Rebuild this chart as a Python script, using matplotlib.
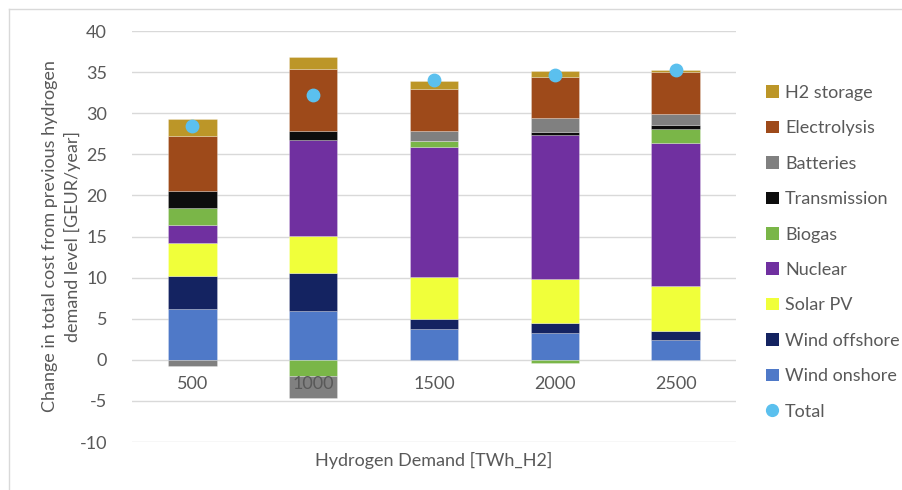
import matplotlib
matplotlib.use("Agg")
import matplotlib.pyplot as plt
from matplotlib.patches import Patch
from matplotlib.lines import Line2D
import numpy as np

plt.rcParams['font.family'] = ['Lato', 'DejaVu Sans']
plt.rcParams['axes.unicode_minus'] = False

categories = ["500", "1000", "1500", "2000", "2500"]
series_names = ["Wind onshore", "Wind offshore", "Solar PV", "Nuclear", "Biogas",
                "Transmission", "Batteries", "Electrolysis", "H2 storage"]
wind_onshore = [6.24, 5.92, 3.77, 3.32, 2.35]
wind_offshore = [4.0, 4.58, 1.17, 1.10, 1.13]
solar_pv = [3.93, 4.60, 5.19, 5.35, 5.44]
nuclear = [2.27, 11.70, 15.73, 17.59, 17.51]
biogas = [2.03, -2.00, 0.73, -0.45, 1.62]
transmission = [2.10, 1.05, 0.0, 0.36, 0.52]
batteries = [-0.80, -2.67, 1.21, 1.66, 1.30]
electrolysis = [6.65, 7.54, 5.19, 5.07, 5.11]
h2_storage = [2.07, 1.42, 0.97, 0.69, 0.28]
total = [28.5, 32.2, 34.0, 34.7, 35.3]

series_values = [wind_onshore, wind_offshore, solar_pv, nuclear, biogas,
                 transmission, batteries, electrolysis, h2_storage]
colors = ["#4F79C8", "#142361", "#F0FF3A", "#7030A0", "#7AB648",
          "#0D0D0D", "#808080", "#9E4A1A", "#BC9628"]
total_color = "#5BC0EE"
text_color = "#595959"

fig = plt.figure(figsize=(9.03, 4.9), dpi=100)
ax = fig.add_axes([132/903, 48/490, (736-132)/903, (442-31)/490])

x = np.arange(len(categories))
pos_base = np.zeros(len(categories))
neg_base = np.zeros(len(categories))
for name, vals, col in zip(series_names, series_values, colors):
    v = np.array(vals, dtype=float)
    bottoms = np.where(v >= 0, pos_base, neg_base)
    ax.bar(x, v, width=0.4, bottom=bottoms, color=col, label=name, zorder=2,
           edgecolor=(1, 1, 1, 0.35), linewidth=0.5)
    pos_base = pos_base + np.where(v >= 0, v, 0)
    neg_base = neg_base + np.where(v < 0, v, 0)

ax.scatter(x, total, s=80, color=total_color, zorder=3, label="Total")

ax.set_ylim(-10, 40)
ax.set_xlim(-0.5, len(categories) - 0.5)
ax.set_yticks(np.arange(-10, 41, 5))
ax.yaxis.grid(True, color="#D9D9D9", linewidth=1)
ax.set_axisbelow(True)
for s in ax.spines.values():
    s.set_visible(False)
ax.tick_params(axis='y', length=0, labelsize=13, colors=text_color, pad=18)
ax.tick_params(axis='x', length=0, labelsize=13, colors=text_color)
ax.set_xticks(x)
ax.set_xticklabels([])
for xi, lab in zip(x, categories):
    ax.annotate(lab, xy=(xi, 0), xytext=(0, -24), textcoords='offset pixels',
                ha='center', va='center', fontsize=13, color=text_color)

ax.set_ylabel("Change in total cost from previous hydrogen\ndemand level [GEUR/year]",
              fontsize=13, color=text_color, linespacing=1.4)
ax.yaxis.set_label_coords(-0.085, 0.5)
fig.text((317+550)/2/903, 1 - 460/490, "Hydrogen Demand [TWh_H2]", ha='center',
         va='center', fontsize=13, color=text_color)

handles = [Patch(facecolor=c, edgecolor='none') for c in colors[::-1]]
labels = series_names[::-1]
handles.append(Line2D([0], [0], marker='o', linestyle='none', markersize=8.5,
                      markerfacecolor=total_color, markeredgecolor=total_color))
labels.append("Total")
leg = fig.legend(handles, labels, loc='upper left', bbox_to_anchor=(766/903, 1 - 85/490),
                 frameon=False, fontsize=13, labelcolor=text_color,
                 handlelength=0.7, handleheight=0.7, handletextpad=0.35,
                 labelspacing=1.075, borderaxespad=0, borderpad=0)

fig.add_artist(Line2D([9/903, 1], [1 - 9/490, 1 - 9/490], transform=fig.transFigure,
                      color="#D9D9D9", linewidth=1))
fig.add_artist(Line2D([9/903, 9/903], [0, 1 - 9/490], transform=fig.transFigure,
                      color="#D9D9D9", linewidth=1))

fig.savefig("out.png", dpi=100)
